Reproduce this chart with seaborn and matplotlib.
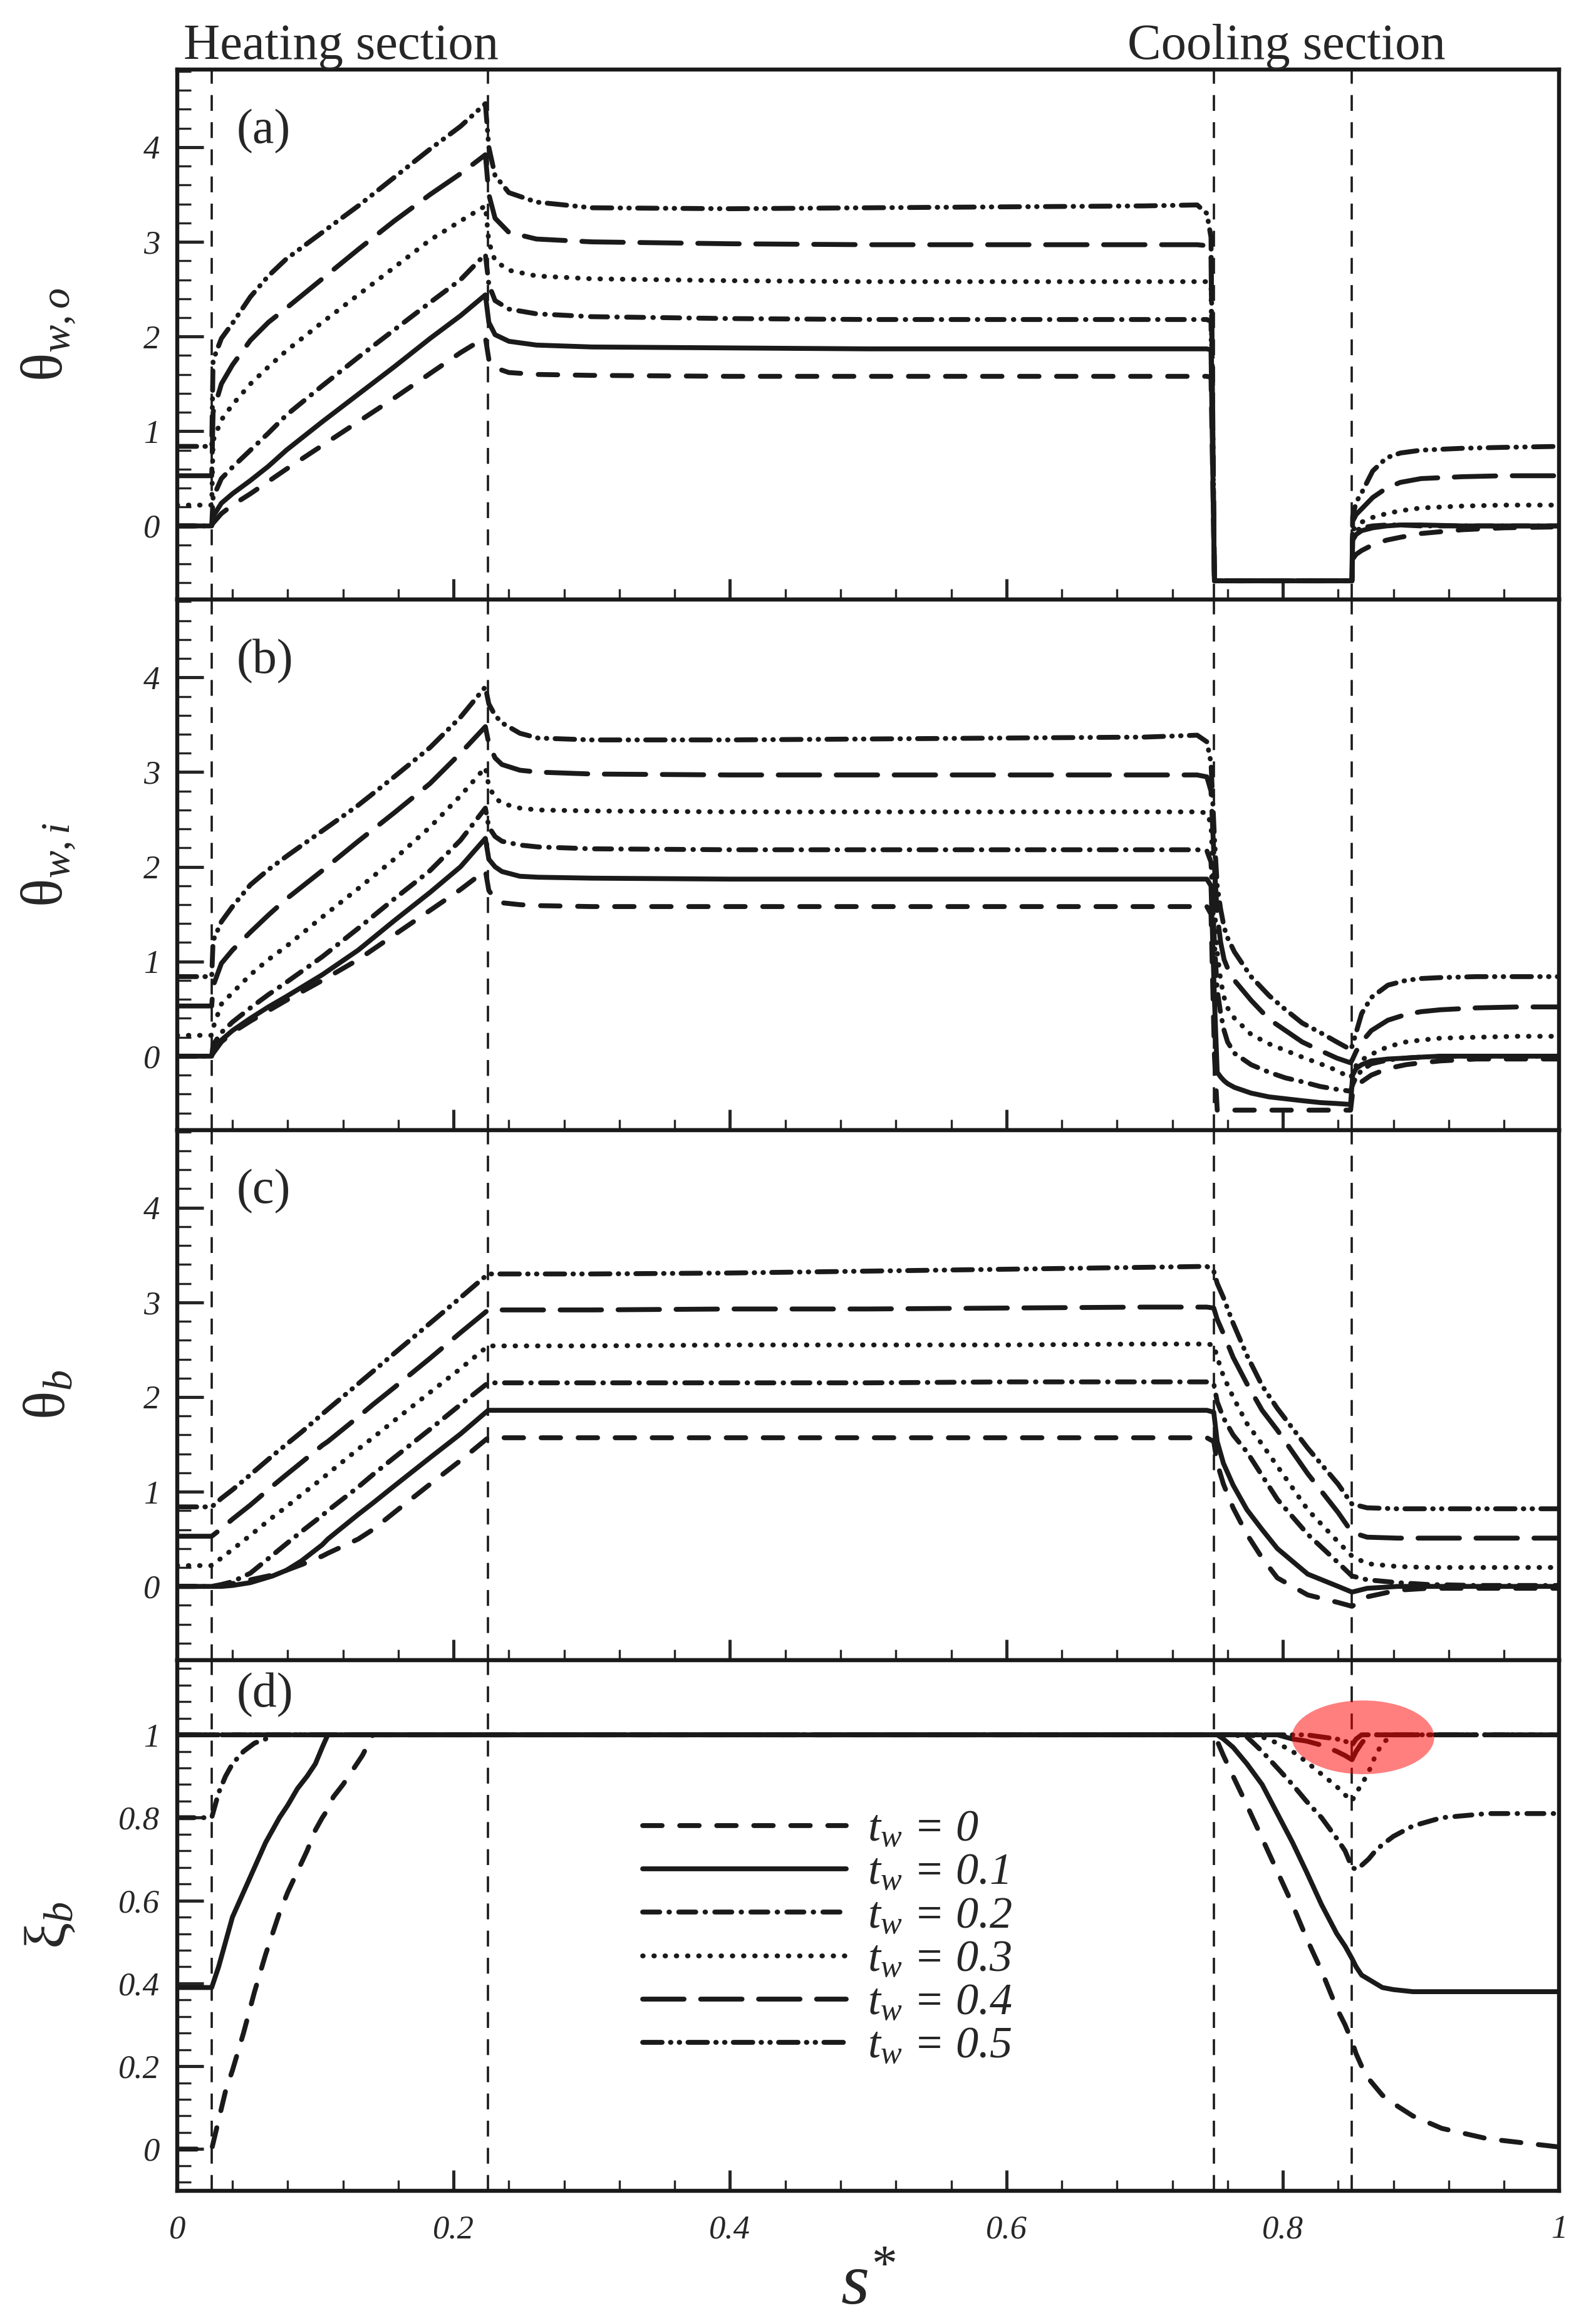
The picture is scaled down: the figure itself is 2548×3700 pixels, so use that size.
import matplotlib
matplotlib.use("Agg")
import matplotlib.pyplot as plt
from matplotlib.patches import Ellipse
from matplotlib.ticker import MultipleLocator
import seaborn as sns
import pandas as pd

# ---- values ----
labels = [r'$t_w$ = 0', r'$t_w$ = 0.1', r'$t_w$ = 0.2',
          r'$t_w$ = 0.3', r'$t_w$ = 0.4', r'$t_w$ = 0.5']
section_edges = [0.025, 0.225, 0.75, 0.85]

# (a) outer wall temperature
s_a = [0.0, 0.025, 0.026, 0.032, 0.04, 0.053, 0.066, 0.079, 0.105, 0.131, 0.157, 0.183, 0.205,
       0.223, 0.2255, 0.23, 0.24, 0.26, 0.3, 0.4, 0.5, 0.6, 0.7, 0.738, 0.745, 0.748, 0.7505,
       0.85, 0.8505, 0.853, 0.857, 0.865, 0.875, 0.885, 0.9, 0.93, 0.96, 1.0]
a_t0 = [0, 0, 0.03, 0.13, 0.22, 0.34, 0.47, 0.6, 0.85, 1.1, 1.35, 1.61, 1.83,
        1.99, 1.76, 1.67, 1.62, 1.6, 1.59, 1.58, 1.58, 1.58, 1.58, 1.58, 1.58, 1.57, -0.58,
        -0.58, -0.35, -0.3, -0.26, -0.2, -0.15, -0.12, -0.08, -0.04, -0.02, -0.01]
a_t1 = [0, 0, 0.1, 0.24, 0.34, 0.48, 0.63, 0.8, 1.1, 1.39, 1.68, 1.98, 2.22,
        2.44, 2.15, 2.02, 1.95, 1.91, 1.89, 1.88, 1.87, 1.87, 1.87, 1.87, 1.87, 1.86, -0.58,
        -0.58, -0.15, -0.09, -0.05, -0.02, 0.0, 0.01, 0.01, 0.0, 0.0, 0.0]
a_t2 = [0, 0, 0.3, 0.5, 0.62, 0.8, 0.98, 1.17, 1.48, 1.78, 2.07, 2.36, 2.6,
        2.87, 2.55, 2.38, 2.29, 2.24, 2.21, 2.19, 2.18, 2.18, 2.18, 2.18, 2.18, 2.16, -0.58,
        -0.58, -0.1, -0.05, -0.02, 0.0, 0.01, 0.01, 0.0, 0.0, 0.0, 0.0]
a_t3 = [0.22, 0.22, 0.9, 1.12, 1.28, 1.5, 1.68, 1.85, 2.15, 2.44, 2.73, 3.02, 3.22,
        3.38, 3.0, 2.8, 2.7, 2.64, 2.61, 2.59, 2.58, 2.58, 2.58, 2.58, 2.58, 2.55, -0.58,
        -0.58, -0.05, 0.0, 0.04, 0.09, 0.13, 0.16, 0.19, 0.21, 0.22, 0.22]
a_t4 = [0.53, 0.53, 1.2, 1.5, 1.7, 1.96, 2.15, 2.3, 2.61, 2.92, 3.22, 3.5, 3.72,
        3.92, 3.5, 3.25, 3.1, 3.03, 3.0, 2.98, 2.97, 2.97, 2.97, 2.97, 2.96, 2.85, -0.58,
        -0.58, 0.05, 0.12, 0.18, 0.3, 0.4, 0.46, 0.5, 0.52, 0.53, 0.53]
a_t5 = [0.84, 0.84, 1.75, 1.98, 2.14, 2.42, 2.64, 2.82, 3.1, 3.38, 3.68, 3.98, 4.22,
        4.46, 4.0, 3.7, 3.52, 3.42, 3.36, 3.35, 3.36, 3.37, 3.38, 3.39, 3.3, 3.05, -0.58,
        -0.58, 0.1, 0.25, 0.35, 0.58, 0.72, 0.77, 0.8, 0.82, 0.83, 0.84]

# (b) inner wall temperature
s_b = [0.0, 0.025, 0.026, 0.032, 0.04, 0.053, 0.066, 0.079, 0.105, 0.131, 0.157, 0.183, 0.205,
       0.223, 0.2255, 0.23, 0.235, 0.248, 0.261, 0.3, 0.4, 0.5, 0.6, 0.7, 0.738, 0.745, 0.748,
       0.7505, 0.7525, 0.755, 0.7575, 0.76, 0.765, 0.777, 0.79, 0.802, 0.814, 0.827, 0.839, 0.849,
       0.8505, 0.853, 0.857, 0.864, 0.876, 0.889, 0.9, 0.914, 0.94, 0.97, 1.0]
b_t0 = [0, 0, 0.03, 0.15, 0.25, 0.37, 0.48, 0.59, 0.8, 1.02, 1.28, 1.54, 1.76, 1.96, 1.75, 1.66, 1.62, 1.6, 1.59,
        1.58, 1.58, 1.58, 1.58, 1.58, 1.58, 1.58, 1.5,
        0.0, -0.57, -0.57, -0.57, -0.57, -0.57, -0.57, -0.57, -0.57, -0.57, -0.57, -0.57, -0.57,
        -0.38, -0.33, -0.27, -0.2, -0.13, -0.09, -0.07, -0.05, -0.03, -0.03, -0.03]
b_t1 = [0, 0, 0.07, 0.17, 0.27, 0.4, 0.52, 0.63, 0.86, 1.12, 1.43, 1.73, 2.0, 2.3, 2.08, 2.0, 1.95, 1.9, 1.89,
        1.88, 1.87, 1.87, 1.87, 1.87, 1.87, 1.87, 1.8,
        0.6, -0.17, -0.22, -0.26, -0.29, -0.33, -0.39, -0.43, -0.45, -0.47, -0.49, -0.5, -0.51,
        -0.2, -0.13, -0.09, -0.05, -0.03, -0.02, -0.01, 0.0, 0.0, 0.0, 0.0]
b_t2 = [0, 0, 0.12, 0.25, 0.36, 0.51, 0.65, 0.78, 1.05, 1.35, 1.66, 1.96, 2.28, 2.62, 2.42, 2.32, 2.27, 2.23, 2.21,
        2.19, 2.18, 2.18, 2.18, 2.18, 2.18, 2.17, 2.05,
        1.2, 0.7, 0.45, 0.27, 0.15, 0.03, -0.09, -0.17, -0.23, -0.27, -0.32, -0.35, -0.37,
        -0.3, -0.22, -0.15, -0.08, -0.04, -0.02, -0.01, 0.0, 0.0, 0.0, 0.0]
b_t3 = [0.22, 0.22, 0.3, 0.55, 0.67, 0.86, 1.02, 1.16, 1.47, 1.77, 2.08, 2.42, 2.75, 3.05, 2.85, 2.73, 2.67, 2.62, 2.6,
        2.59, 2.58, 2.58, 2.58, 2.58, 2.58, 2.57, 2.45,
        1.6, 1.1, 0.8, 0.62, 0.51, 0.4, 0.23, 0.13, 0.06, -0.01, -0.08, -0.15, -0.23,
        -0.18, -0.1, -0.04, 0.02, 0.1, 0.15, 0.17, 0.19, 0.2, 0.21, 0.21]
b_t4 = [0.53, 0.53, 0.74, 0.98, 1.12, 1.31, 1.49, 1.66, 1.96, 2.27, 2.57, 2.88, 3.2, 3.48, 3.3, 3.15, 3.08, 3.02, 3.0,
        2.98, 2.97, 2.97, 2.97, 2.97, 2.97, 2.95, 2.8,
        2.0, 1.5, 1.2, 1.02, 0.93, 0.8, 0.59, 0.39, 0.27, 0.15, 0.06, -0.02, -0.07,
        -0.03, 0.05, 0.15, 0.27, 0.38, 0.44, 0.47, 0.49, 0.51, 0.52, 0.52]
b_t5 = [0.84, 0.84, 1.22, 1.42, 1.58, 1.81, 1.97, 2.11, 2.38, 2.65, 2.95, 3.26, 3.58, 3.9, 3.72, 3.6, 3.52, 3.41, 3.36,
        3.34, 3.34, 3.35, 3.36, 3.37, 3.39, 3.32, 3.1,
        2.3, 1.8, 1.55, 1.36, 1.25, 1.1, 0.84, 0.64, 0.49, 0.35, 0.25, 0.15, 0.07,
        0.12, 0.25, 0.45, 0.62, 0.75, 0.8, 0.82, 0.83, 0.84, 0.84, 0.84]

# (c) bulk temperature
s_c = [0.0, 0.025, 0.032, 0.04, 0.053, 0.069, 0.079, 0.09, 0.105, 0.109, 0.131, 0.1416, 0.157, 0.183,
       0.205, 0.225, 0.3, 0.4, 0.5, 0.6, 0.7, 0.745, 0.75, 0.7525, 0.757, 0.764, 0.774, 0.785, 0.796,
       0.818, 0.84, 0.85, 0.861, 0.883, 0.905, 0.94, 1.0]
c_t0 = [0, 0, 0.01, 0.03, 0.07, 0.12, 0.17, 0.23, 0.32, 0.35, 0.5, 0.6, 0.78, 1.08, 1.33, 1.57,
        1.57, 1.57, 1.57, 1.57, 1.57, 1.57,
        1.53, 1.3, 1.08, 0.83, 0.55, 0.3, 0.09, -0.09, -0.17, -0.21, -0.11, -0.04, -0.02, -0.02, -0.02]
c_t1 = [0, 0, 0.0, 0.01, 0.04, 0.11, 0.17, 0.27, 0.44, 0.5, 0.76, 0.88, 1.06, 1.36, 1.61, 1.86,
        1.86, 1.86, 1.86, 1.86, 1.86, 1.86,
        1.84, 1.53, 1.3, 1.07, 0.81, 0.6, 0.4, 0.13, 0.0, -0.06, -0.02, 0.0, 0.0, 0.0, 0.0]
c_t2 = [0, 0, 0.02, 0.05, 0.14, 0.33, 0.45, 0.58, 0.75, 0.8, 1.05, 1.18, 1.36, 1.66, 1.92, 2.15,
        2.15, 2.15, 2.15, 2.16, 2.16, 2.16,
        2.14, 1.95, 1.78, 1.6, 1.42, 1.17, 0.92, 0.55, 0.25, 0.11, 0.07, 0.04, 0.02, 0.01, 0.01]
c_t3 = [0.22, 0.22, 0.3, 0.39, 0.54, 0.73, 0.84, 0.97, 1.14, 1.19, 1.45, 1.57, 1.75, 2.05, 2.3, 2.54,
        2.54, 2.55, 2.55, 2.55, 2.56, 2.56,
        2.55, 2.42, 2.22, 2.0, 1.72, 1.5, 1.27, 0.81, 0.47, 0.32, 0.24, 0.21, 0.2, 0.2, 0.2]
c_t4 = [0.53, 0.53, 0.61, 0.71, 0.86, 1.06, 1.18, 1.31, 1.49, 1.53, 1.79, 1.92, 2.1, 2.41, 2.68, 2.92,
        2.92, 2.93, 2.93, 2.94, 2.95, 2.95,
        2.94, 2.82, 2.67, 2.42, 2.14, 1.86, 1.65, 1.19, 0.78, 0.57, 0.52, 0.51, 0.51, 0.51, 0.51]
c_t5 = [0.84, 0.84, 0.93, 1.02, 1.18, 1.38, 1.5, 1.63, 1.82, 1.87, 2.14, 2.27, 2.46, 2.78, 3.05, 3.3,
        3.3, 3.31, 3.33, 3.35, 3.37, 3.38,
        3.33, 3.2, 3.05, 2.78, 2.44, 2.12, 1.88, 1.46, 1.08, 0.87, 0.83, 0.82, 0.82, 0.82, 0.82]

# (d) bulk liquid fraction
s_d = [0.0, 0.025, 0.03, 0.035, 0.04, 0.048, 0.056, 0.064, 0.069, 0.074, 0.08, 0.087, 0.094, 0.1,
       0.105, 0.109, 0.113, 0.12, 0.126, 0.134, 0.1416, 0.3, 0.6, 0.75, 0.7525, 0.757, 0.764, 0.774,
       0.785, 0.796, 0.807, 0.817, 0.828, 0.839, 0.845, 0.85, 0.853, 0.857, 0.862, 0.867, 0.872,
       0.88, 0.894, 0.915, 0.948, 1.0]
d_t0 = [0, 0, 0.07, 0.14, 0.19, 0.28, 0.38, 0.47, 0.52, 0.57, 0.62, 0.67, 0.72, 0.77,
        0.8, 0.82, 0.85, 0.88, 0.91, 0.95, 1.0, 1, 1, 1,
        0.985, 0.95, 0.9, 0.83, 0.75, 0.67, 0.59, 0.51, 0.43, 0.34, 0.3, 0.26, 0.23, 0.2, 0.17,
        0.15, 0.13, 0.11, 0.08, 0.05, 0.025, 0.005]
d_t1 = [0.39, 0.39, 0.44, 0.5, 0.56, 0.62, 0.68, 0.74, 0.77, 0.8, 0.83, 0.87, 0.9, 0.93,
        0.97, 1.0, 1, 1, 1, 1, 1, 1, 1, 1,
        1.0, 0.99, 0.97, 0.93, 0.88, 0.81, 0.74, 0.67, 0.59, 0.52, 0.49, 0.46, 0.44, 0.42, 0.41,
        0.4, 0.39, 0.385, 0.38, 0.38, 0.38, 0.38]
d_t2 = [0.8, 0.8, 0.86, 0.9, 0.93, 0.96, 0.98, 0.99, 1.0, 1, 1, 1, 1, 1,
        1, 1, 1, 1, 1, 1, 1, 1, 1, 1,
        1, 1, 1.0, 0.995, 0.96, 0.92, 0.88, 0.84, 0.8, 0.75, 0.72, 0.68, 0.675, 0.685, 0.7,
        0.72, 0.735, 0.755, 0.78, 0.8, 0.81, 0.81]
d_t3 = [1] * 24 + [1, 1, 1, 1, 0.995, 0.98, 0.96, 0.935, 0.905, 0.875, 0.855, 0.84, 0.86, 0.88,
                   0.91, 0.95, 0.98, 1.0, 1, 1, 1, 1]
d_t4 = [1] * 24 + [1, 1, 1, 1, 1, 1.0, 0.99, 0.985, 0.975, 0.96, 0.95, 0.94, 0.96, 0.98,
                   1.0, 1, 1, 1, 1, 1, 1, 1]
d_t5 = [1] * 24 + [1, 1, 1, 1, 1, 1, 1, 1, 0.995, 0.99, 0.985, 0.975, 0.99, 1.0,
                   1, 1, 1, 1, 1, 1, 1, 1]

# ---- style ----
sns.set_theme(style='ticks')
plt.rcParams['font.family'] = ['Liberation Serif', 'DejaVu Serif']
plt.rcParams['mathtext.fontset'] = 'custom'
plt.rcParams['mathtext.rm'] = 'Liberation Serif'
plt.rcParams['mathtext.it'] = 'Liberation Serif:italic'
plt.rcParams['mathtext.bf'] = 'Liberation Serif:bold'

dash_map = dict(zip(labels, [(4, 3.6), '', (3.5, 1.9, 0.1, 1.9), (0.1, 2.2),
                             (8.5, 3.4), (4, 1.7, 0.1, 1.7, 0.1, 1.7)]))

panels = [(s_a, [a_t0, a_t1, a_t2, a_t3, a_t4, a_t5]),
          (s_b, [b_t0, b_t1, b_t2, b_t3, b_t4, b_t5]),
          (s_c, [c_t0, c_t1, c_t2, c_t3, c_t4, c_t5]),
          (s_d, [d_t0, d_t1, d_t2, d_t3, d_t4, d_t5])]
ylabels = [r'θ$_{w,o}$', r'θ$_{w,i}$', r'θ$_{b}$', r'ξ$_{b}$']
letters = ['(a)', '(b)', '(c)', '(d)']

fig, axes = plt.subplots(4, 1, figsize=(12.74, 18.5), sharex=True)
fig.subplots_adjust(left=0.111, right=0.977, top=0.970, bottom=0.055, hspace=0)

for i, ax in enumerate(axes):
    s, series = panels[i]
    frame = pd.DataFrame({'s': s})
    for lab, vals in zip(labels, series):
        frame[lab] = vals
    long = frame.melt(id_vars='s', var_name='tw', value_name='val')

    for x0 in section_edges:
        ax.axvline(x0, color='k', lw=1.3, dashes=(7, 5), zorder=1)

    sns.lineplot(data=long, x='s', y='val', style='tw', style_order=labels,
                 dashes=dash_map, color='k', lw=2.8, sort=False, estimator=None,
                 legend='full' if i == 3 else False, ax=ax,
                 dash_capstyle='round', zorder=3)

    ax.set_xlim(0, 1)
    if i < 3:
        ax.set_ylim(-0.78, 4.82)
        ax.set_yticks([0, 1, 2, 3, 4])
        ax.set_yticklabels(['0', '1', '2', '3', '4'], fontstyle='italic')
        ax.yaxis.set_minor_locator(MultipleLocator(0.2))
        ly = 0.884
    else:
        ax.set_ylim(-0.1, 1.18)
        ax.set_yticks([0, 0.2, 0.4, 0.6, 0.8, 1])
        ax.set_yticklabels(['0', '0.2', '0.4', '0.6', '0.8', '1'], fontstyle='italic')
        ax.yaxis.set_minor_locator(MultipleLocator(0.04))
        ly = 0.934
    ax.xaxis.set_minor_locator(MultipleLocator(0.04))

    ax.tick_params(axis='x', which='both', direction='in', bottom=True, top=False)
    ax.tick_params(axis='y', which='both', direction='in', left=True, right=False)
    ax.tick_params(axis='x', which='major', length=12, width=1.8, labelsize=19, pad=14)
    ax.tick_params(axis='x', which='minor', length=6, width=1.2)
    ax.tick_params(axis='y', which='major', length=15, width=1.8, labelsize=19, pad=10)
    ax.tick_params(axis='y', which='minor', length=8, width=1.2)
    for sp in ax.spines.values():
        sp.set_linewidth(2.3)
        sp.set_color('k')

    ax.set_xlabel('')
    ax.set_ylabel(ylabels[i], fontsize=34)
    ax.yaxis.set_label_coords(-0.072, 0.5)
    ax.text(0.043, ly, letters[i], transform=ax.transAxes, fontsize=28, va='center', ha='left')

bottom = axes[3]
bottom.set_xticks([0, 0.2, 0.4, 0.6, 0.8, 1])
bottom.set_xticklabels(['0', '0.2', '0.4', '0.6', '0.8', '1'], fontstyle='italic')

# highlight mark
bottom.add_patch(Ellipse((0.858, 0.994), 0.103, 0.178, facecolor='red',
                         edgecolor='none', alpha=0.5, zorder=6))

# legend rebuilt without title, no frame
leg = bottom.get_legend()
handles = leg.legend_handles
texts = [t.get_text() for t in leg.get_texts()]
bottom.legend(handles, texts, loc='upper left', bbox_to_anchor=(0.337, 0.718),
              frameon=False, handlelength=4.5, handletextpad=0.46, labelspacing=0.05,
              borderpad=0, borderaxespad=0, prop={'size': 26, 'style': 'italic'})

fig.text(0.115, 0.9745, 'Heating section', fontsize=29, va='baseline', ha='left')
fig.text(0.7065, 0.9745, 'Cooling section', fontsize=29, va='baseline', ha='left')
fig.text(0.544, 0.006, r'$s^{*}$', fontsize=42, ha='center', va='baseline')

fig.savefig('out.png', dpi=200)
